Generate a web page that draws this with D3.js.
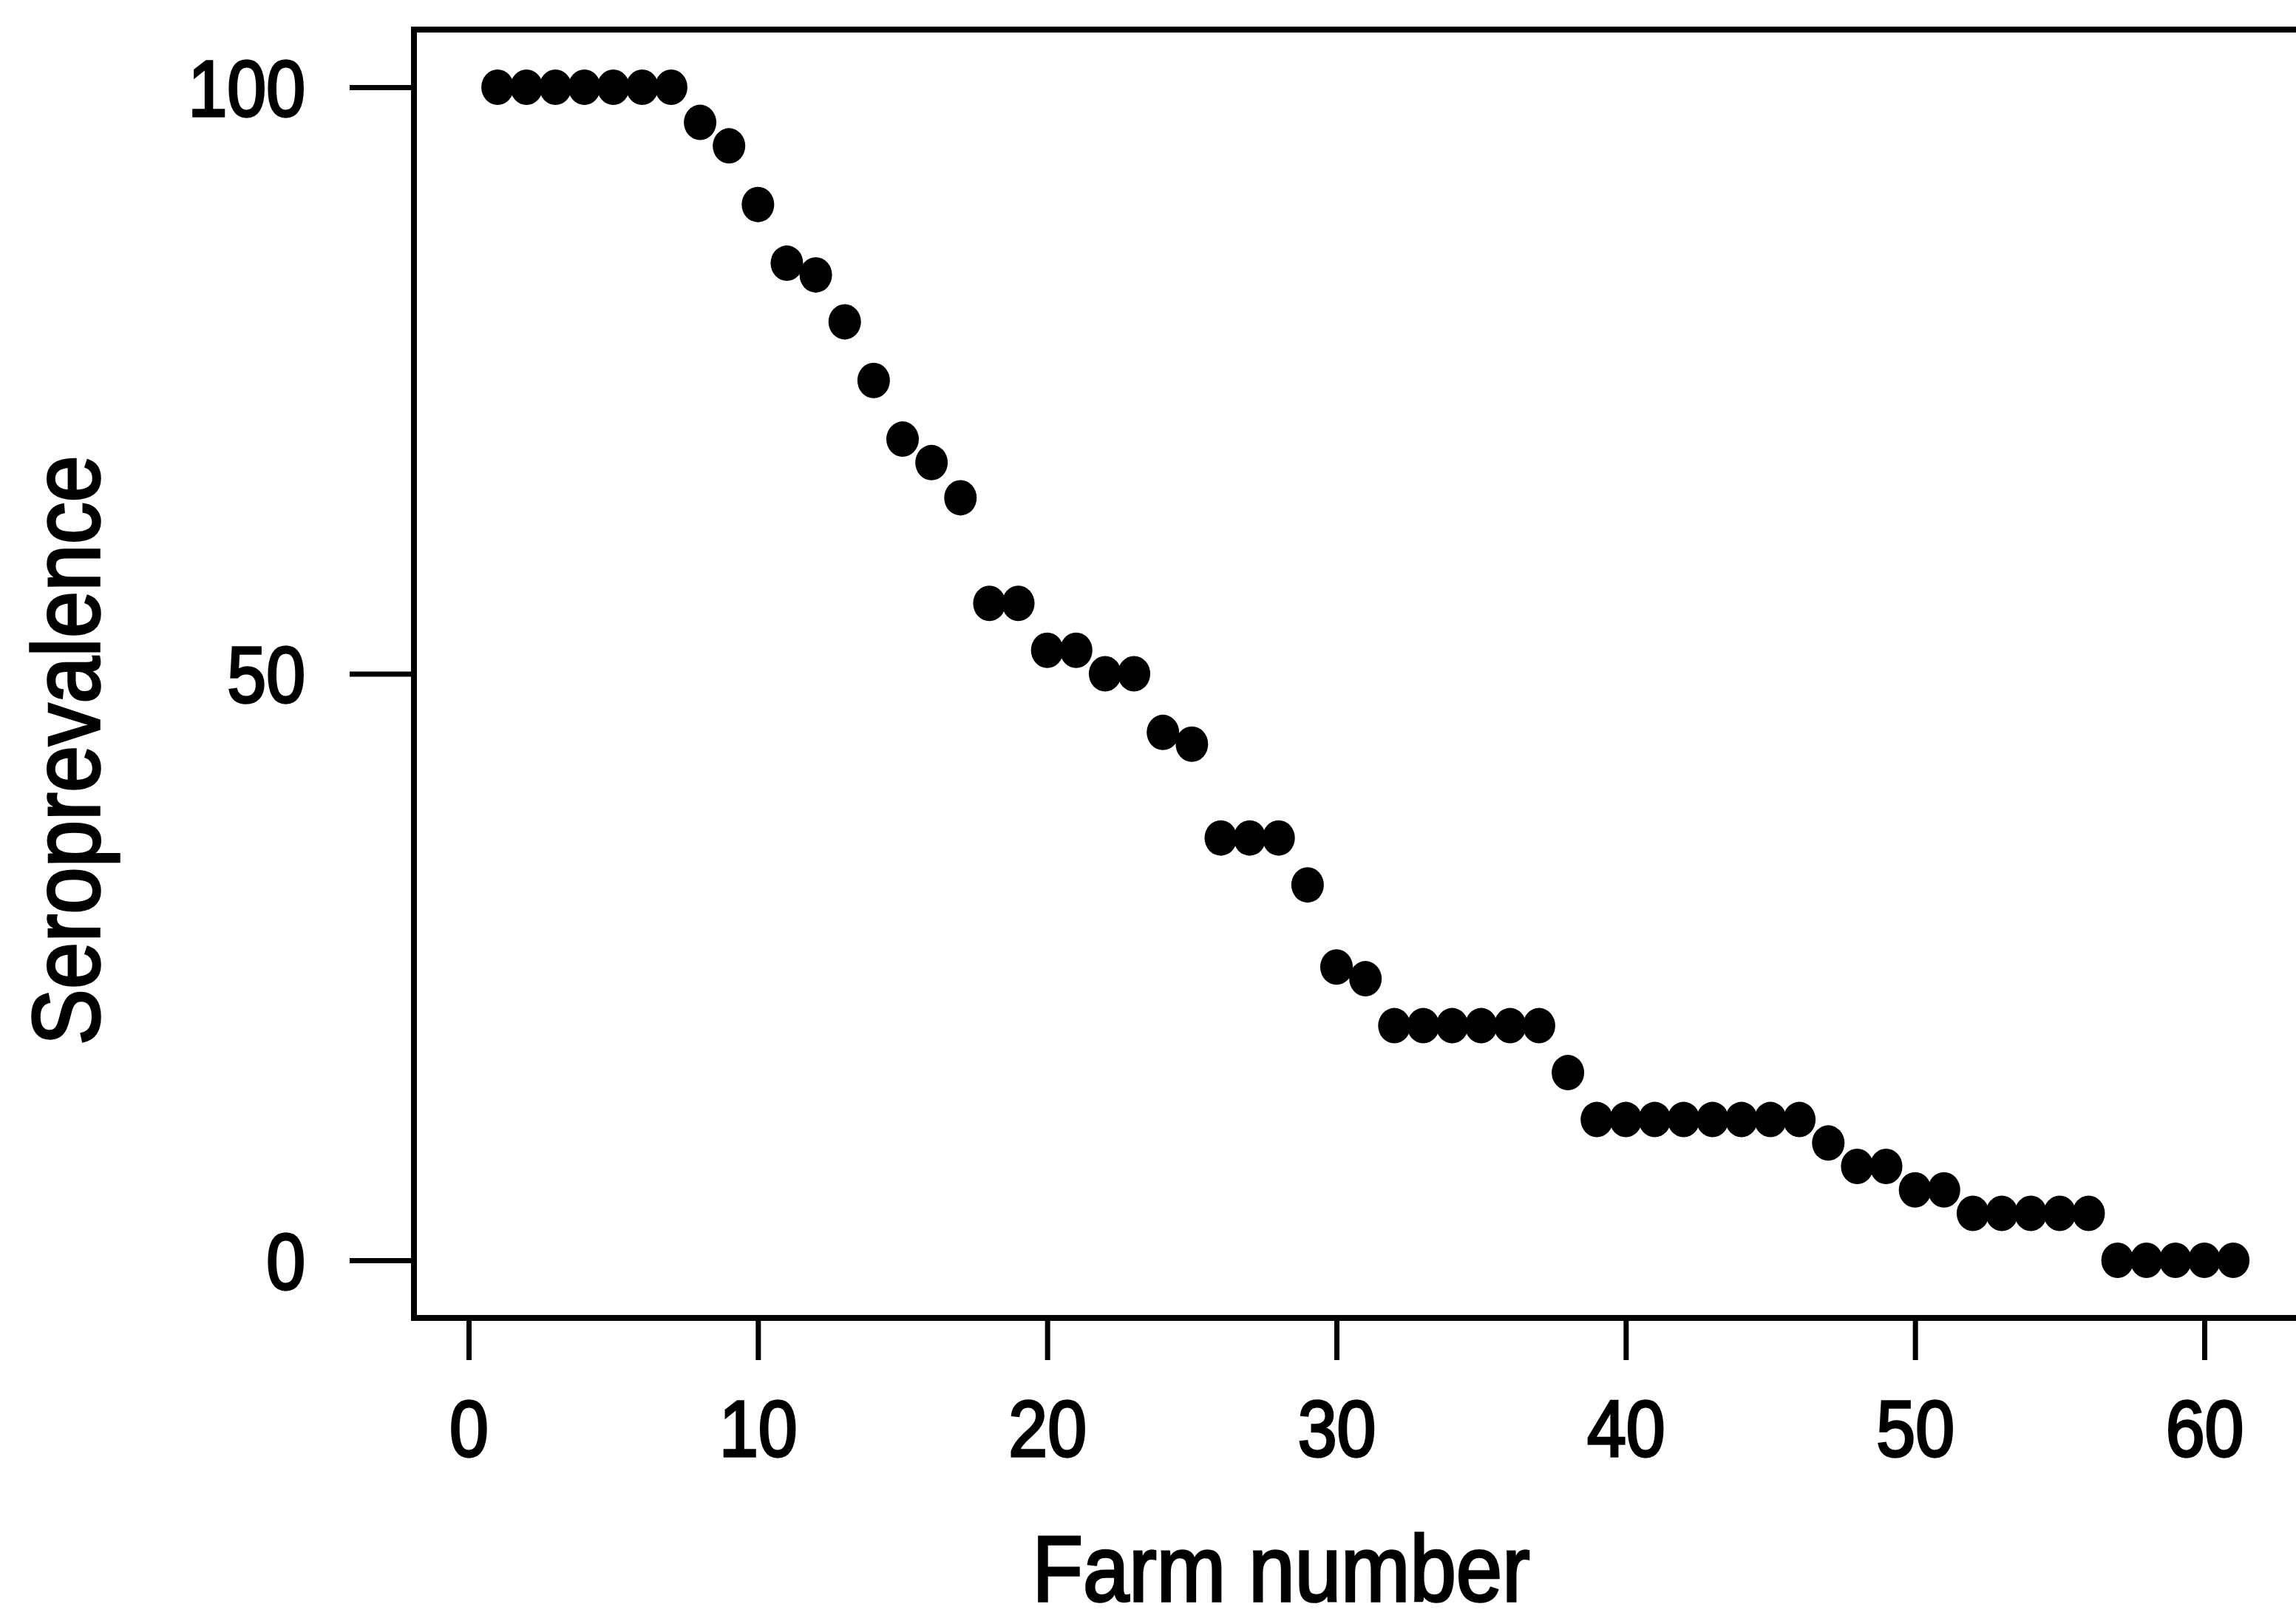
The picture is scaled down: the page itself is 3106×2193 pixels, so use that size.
<!DOCTYPE html>
<html>
<head>
<script src="https://d3js.org/d3.v7.min.js"></script>
<style>
  body { margin: 0; background: white; }
  text { font-family: "Liberation Sans", Arial, sans-serif; fill: black; stroke: black; stroke-width: 3.5px; }
</style>
</head>
<body>
<svg width="3106" height="2193"></svg>
<script>
// farm number on x, seroprevalence (%) on y
var farms = [1,2,3,4,5,6,7,8,9,10,11,12,13,14,15,16,17,18,19,20,
  21,22,23,24,25,26,27,28,29,30,31,32,33,34,35,36,37,38,39,40,
  41,42,43,44,45,46,47,48,49,50,51,52,53,54,55,56,57,58,59,60,61];
var seroprevalence = [100,100,100,100,100,100,100,97,95,90,
  85,84,80,75,70,68,65,56,56,52,
  52,50,50,45,44,36,36,36,32,25,
  24,20,20,20,20,20,20,16,12,12,
  12,12,12,12,12,12,10,8,8,6,
  6,4,4,4,4,4,0,0,0,0,0];
var xTicks = [0,10,20,30,40,50,60];
var yTicks = [0,50,100];

var svg = d3.select('svg');
svg.append('rect').attr('width', 3106).attr('height', 2193).attr('fill', 'white');

var x = d3.scaleLinear().domain([0, 60]).range([634, 2982]);
var y = d3.scaleLinear().domain([0, 100]).range([1705, 118]);

var boxLeft = 560, boxTop = 40, boxBottom = 1783;

// frame (right side runs off the picture)
svg.append('path')
  .attr('d', 'M3120,' + boxTop + 'H' + boxLeft + 'V' + boxBottom + 'H3120')
  .attr('fill', 'none')
  .attr('stroke', 'black')
  .attr('stroke-width', 8);

// y axis
var yAxis = svg.append('g')
  .attr('transform', 'translate(' + boxLeft + ',0)')
  .call(d3.axisLeft(y).tickValues(yTicks).tickSize(87).tickFormat(d3.format('d')));
yAxis.select('.domain').remove();
yAxis.selectAll('line').attr('stroke', 'black').attr('stroke-width', 7);
yAxis.selectAll('text')
  .attr('x', 0).attr('dy', 0)
  .attr('transform', 'translate(-147,38) scale(0.88,1)')
  .style('font-size', '108px')
  .attr('text-anchor', 'end');

// x axis
var xAxis = svg.append('g')
  .attr('transform', 'translate(0,' + boxBottom + ')')
  .call(d3.axisBottom(x).tickValues(xTicks).tickSize(57).tickFormat(d3.format('d')));
xAxis.select('.domain').remove();
xAxis.selectAll('line').attr('stroke', 'black').attr('stroke-width', 7);
xAxis.selectAll('text')
  .attr('y', 0).attr('dy', 0)
  .attr('transform', 'translate(0,187) scale(0.88,1)')
  .style('font-size', '108px');

// points
svg.append('g')
  .selectAll('ellipse')
  .data(seroprevalence).enter().append('ellipse')
  .attr('cx', function(d, i) { return x(farms[i]); })
  .attr('cy', function(d) { return y(d); })
  .attr('rx', 22)
  .attr('ry', 24)
  .attr('fill', 'black');

// axis titles
svg.append('text')
  .attr('transform', 'translate(1733,2166) scale(0.89,1)')
  .attr('text-anchor', 'middle')
  .style('font-size', '126px')
  .text('Farm number');

svg.append('text')
  .attr('transform', 'translate(134,1015) rotate(-90) scale(0.89,1)')
  .attr('text-anchor', 'middle')
  .style('font-size', '128px')
  .text('Seroprevalence');
</script>
</body>
</html>
